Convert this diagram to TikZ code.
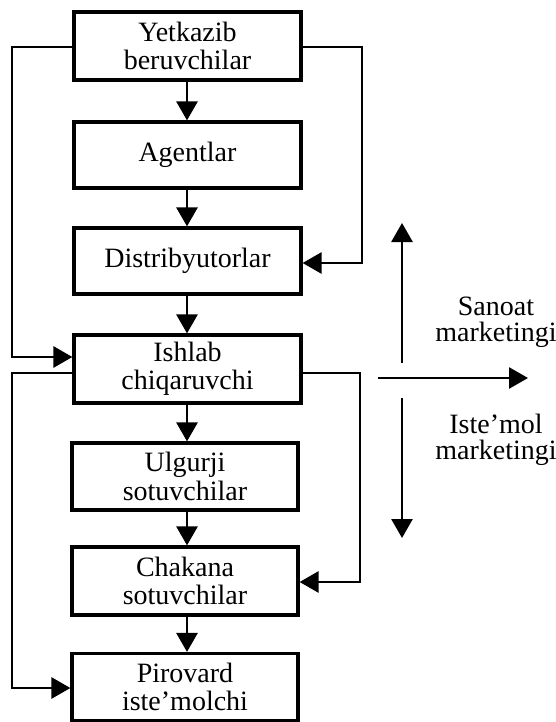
\documentclass[tikz,border=0pt]{standalone}
\usepackage{fontspec}
\setmainfont{Liberation Serif}
\usetikzlibrary{arrows.meta}
\begin{document}
\begin{tikzpicture}[x=1pt,y=-1pt,
  box/.style={draw,line width=3.2pt,minimum width=227pt,inner sep=0pt,align=center,
    font=\fontsize{28}{28.5}\selectfont},
  conn/.style={line width=2.8pt,-{Triangle[length=19pt,width=21pt]}},
  lbl/.style={align=center,font=\fontsize{28}{26}\selectfont,inner sep=0pt}]
\useasboundingbox (0,0) rectangle (556,722);
\node[box,minimum height=68pt] (yet) at (187.5,46) {Yetkazib\\beruvchilar};
\node[box,minimum height=66pt] (ag) at (187.5,155) {Agentlar};
\node[box,minimum height=66pt] (dist) at (187.5,261) {Distribyutorlar};
\node[box,minimum height=68pt] (ish) at (187.5,369) {Ishlab\\chiqaruvchi};
\node[box,minimum height=67pt,minimum width=226pt] (ulg) at (185,476.5) {Ulgurji\\sotuvchilar};
\node[box,minimum height=68pt,minimum width=226pt] (chak) at (185,581) {Chakana\\sotuvchilar};
\node[box,minimum height=67pt,minimum width=226pt] (pir) at (185,687) {Pirovard\\iste'molchi};
% main chain
\draw[conn] (yet.south -| 187,0) -- (ag.north -| 187,0);
\draw[conn] (ag.south -| 187,0) -- (dist.north -| 187,0);
\draw[conn] (dist.south -| 187,0) -- (ish.north -| 187,0);
\draw[conn] (ish.south -| 187,0) -- (ulg.north -| 187,0);
\draw[conn] (ulg.south -| 187,0) -- (chak.north -| 187,0);
\draw[conn] (chak.south -| 187,0) -- (pir.north -| 187,0);
% side connectors
\draw[conn] (yet.west |- 0,47) -- (12,47) -- (12,357) -- (ish.west |- 0,357);
\draw[conn] (yet.east |- 0,47) -- (362,47) -- (362,263) -- (dist.east |- 0,263);
\draw[conn] (ish.west |- 0,373) -- (12,373) -- (12,688) -- (pir.west |- 0,688);
\draw[conn] (ish.east |- 0,373) -- (360,373) -- (360,582) -- (chak.east |- 0,582);
% right side arrows
\coordinate (up0) at (402,363);
\coordinate (up1) at (402,223);
\coordinate (dn0) at (402,398);
\coordinate (dn1) at (402,538);
\coordinate (h0) at (378,378);
\coordinate (h1) at (528,378);
\draw[conn] (up0) -- (up1);
\draw[conn] (dn0) -- (dn1);
\draw[conn] (h0) -- (h1);
\node[lbl] (san) at (496,322) {Sanoat\\marketingi};
\node[lbl] (ist) at (496,440) {Iste'mol\\marketingi};
\end{tikzpicture}
\end{document}
